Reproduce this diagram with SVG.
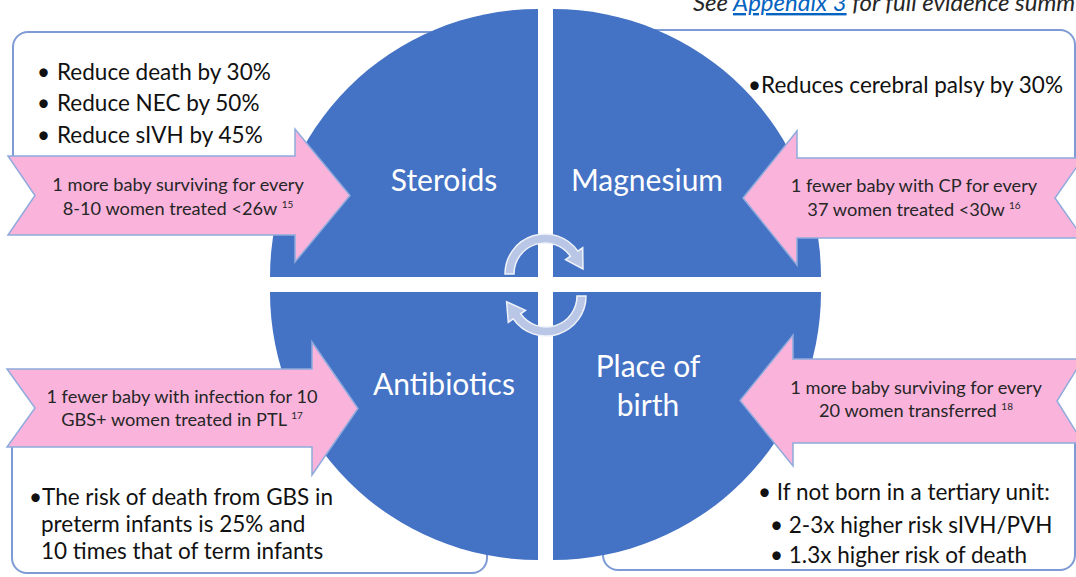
<svg xmlns="http://www.w3.org/2000/svg" width="1076" height="577" viewBox="0 0 1076 577">
<style>
.q{fill:#4472C4}
.box{fill:#fff;stroke:#7F9BD6;stroke-width:2}
.arr{fill:#FAB4DC;stroke:#8FAADC;stroke-width:1.5}
.cyc{fill:#B9C6E6;stroke:#EEF2FA;stroke-width:1.5}
.lbl{font-family:Lato,"Liberation Sans",sans-serif;font-size:30px;fill:#fff;text-anchor:middle}
.at{font-family:Lato,"Liberation Sans",sans-serif;font-size:18.2px;fill:#262626;text-anchor:middle}
.bt{font-family:Lato,"Liberation Sans",sans-serif;font-size:22.5px;fill:#111}
.sup{font-size:10px}
.hd{font-family:Lato,"Liberation Sans",sans-serif;font-size:24px;font-style:italic;fill:#262626}
</style>
<rect width="1076" height="577" fill="#fff"/>
<text class="hd" x="693" y="11">See <tspan fill="#0563C1" text-decoration="underline">Appendix 3</tspan> for full evidence summ</text>

<g id="box-steroids">
<path class="box" d="M13,156 V47 A15,15 0 0 1 28,32 H500 V156"/>
<text class="bt" x="37" y="80">•</text><text class="bt" x="57" y="80">Reduce death by 30%</text>
<text class="bt" x="37" y="111">•</text><text class="bt" x="57" y="111">Reduce NEC by 50%</text>
<text class="bt" x="37" y="143">•</text><text class="bt" x="57" y="143">Reduce sIVH by 45%</text>
</g>
<g id="box-magnesium">
<path class="box" d="M600,158 V30 H1060 A15,15 0 0 1 1075,45 V158"/>
<text class="bt" x="748" y="93">•Reduces cerebral palsy by 30%</text>
</g>
<g id="box-antibiotics">
<path class="box" d="M12,447 V558 A15,15 0 0 0 27,573 H472 A15,15 0 0 0 487,558 V447"/>
<text class="bt" x="29" y="505">•The risk of death from GBS in</text>
<text class="bt" x="41" y="532">preterm infants is 25% and</text>
<text class="bt" x="41" y="559">10 times that of term infants</text>
</g>
<g id="box-place">
<path class="box" d="M603,443 V555 A15,15 0 0 0 618,570 H1060 A15,15 0 0 0 1075,555 V443"/>
<text class="bt" x="758" y="500">• If not born in a tertiary unit:</text>
<text class="bt" x="770" y="533">• 2-3x higher risk sIVH/PVH</text>
<text class="bt" x="770" y="563">• 1.3x higher risk of death</text>
</g>

<g id="q-steroids">
<path class="q" d="M538,277 L270,277 A268,268 0 0 1 538,9 Z"/>
<text class="lbl" x="444" y="191">Steroids</text>
</g>
<g id="q-magnesium">
<path class="q" d="M553,277 L553,9 A268,268 0 0 1 821,277 Z"/>
<text class="lbl" x="647" y="191">Magnesium</text>
</g>
<g id="q-antibiotics">
<path class="q" d="M538,292 L538,560 A268,268 0 0 1 270,292 Z"/>
<text class="lbl" x="444" y="395">Antibiotics</text>
</g>
<g id="q-place">
<path class="q" d="M553,292 L821,292 A268,268 0 0 1 553,560 Z"/>
<text class="lbl" x="648" y="377">Place of</text>
<text class="lbl" x="648" y="416">birth</text>
</g>

<g id="connectors">
<path class="cyc" d="M505,274 A40,40 0 0 1 577.8,251.1 L582.7,247.6 L583,269 L565.5,259.7 L570.4,256.2 A31,31 0 0 0 514,274 Z"/>
<path class="cyc" d="M586,296 A40,40 0 0 1 513.2,318.9 L508.3,322.4 L506.6,301.7 L525.5,310.3 L520.6,313.8 A31,31 0 0 0 577,296 Z"/>
</g>

<g id="arrow-steroids">
<path class="arr" d="M8,156 H295 V129 L350,195.5 L295,262 V235 H8 L35,195.5 Z"/>
<text class="at" x="178" y="191">1 more baby surviving for every</text>
<text class="at" x="178" y="215">8-10 women treated &lt;26w <tspan class="sup" dy="-7">15</tspan></text>
</g>
<g id="arrow-magnesium">
<path class="arr" d="M743,198 L797,131 V158 H1083 L1055,198 L1083,238 H797 V265 Z"/>
<text class="at" x="914" y="192">1 fewer baby with CP for every</text>
<text class="at" x="914" y="216">37 women treated &lt;30w <tspan class="sup" dy="-7">16</tspan></text>
</g>
<g id="arrow-antibiotics">
<path class="arr" d="M7,369 H312 V342 L358,408.5 L312,475 V447 H7 L35,408 Z"/>
<text class="at" x="182" y="403">1 fewer baby with infection for 10</text>
<text class="at" x="182" y="426">GBS+ women treated in PTL <tspan class="sup" dy="-7">17</tspan></text>
</g>
<g id="arrow-place">
<path class="arr" d="M740,400.5 L793,335 V359 H1083 L1057,401 L1083,443 H793 V466 Z"/>
<text class="at" x="916" y="394">1 more baby surviving for every</text>
<text class="at" x="916" y="417">20 women transferred <tspan class="sup" dy="-7">18</tspan></text>
</g>
</svg>
